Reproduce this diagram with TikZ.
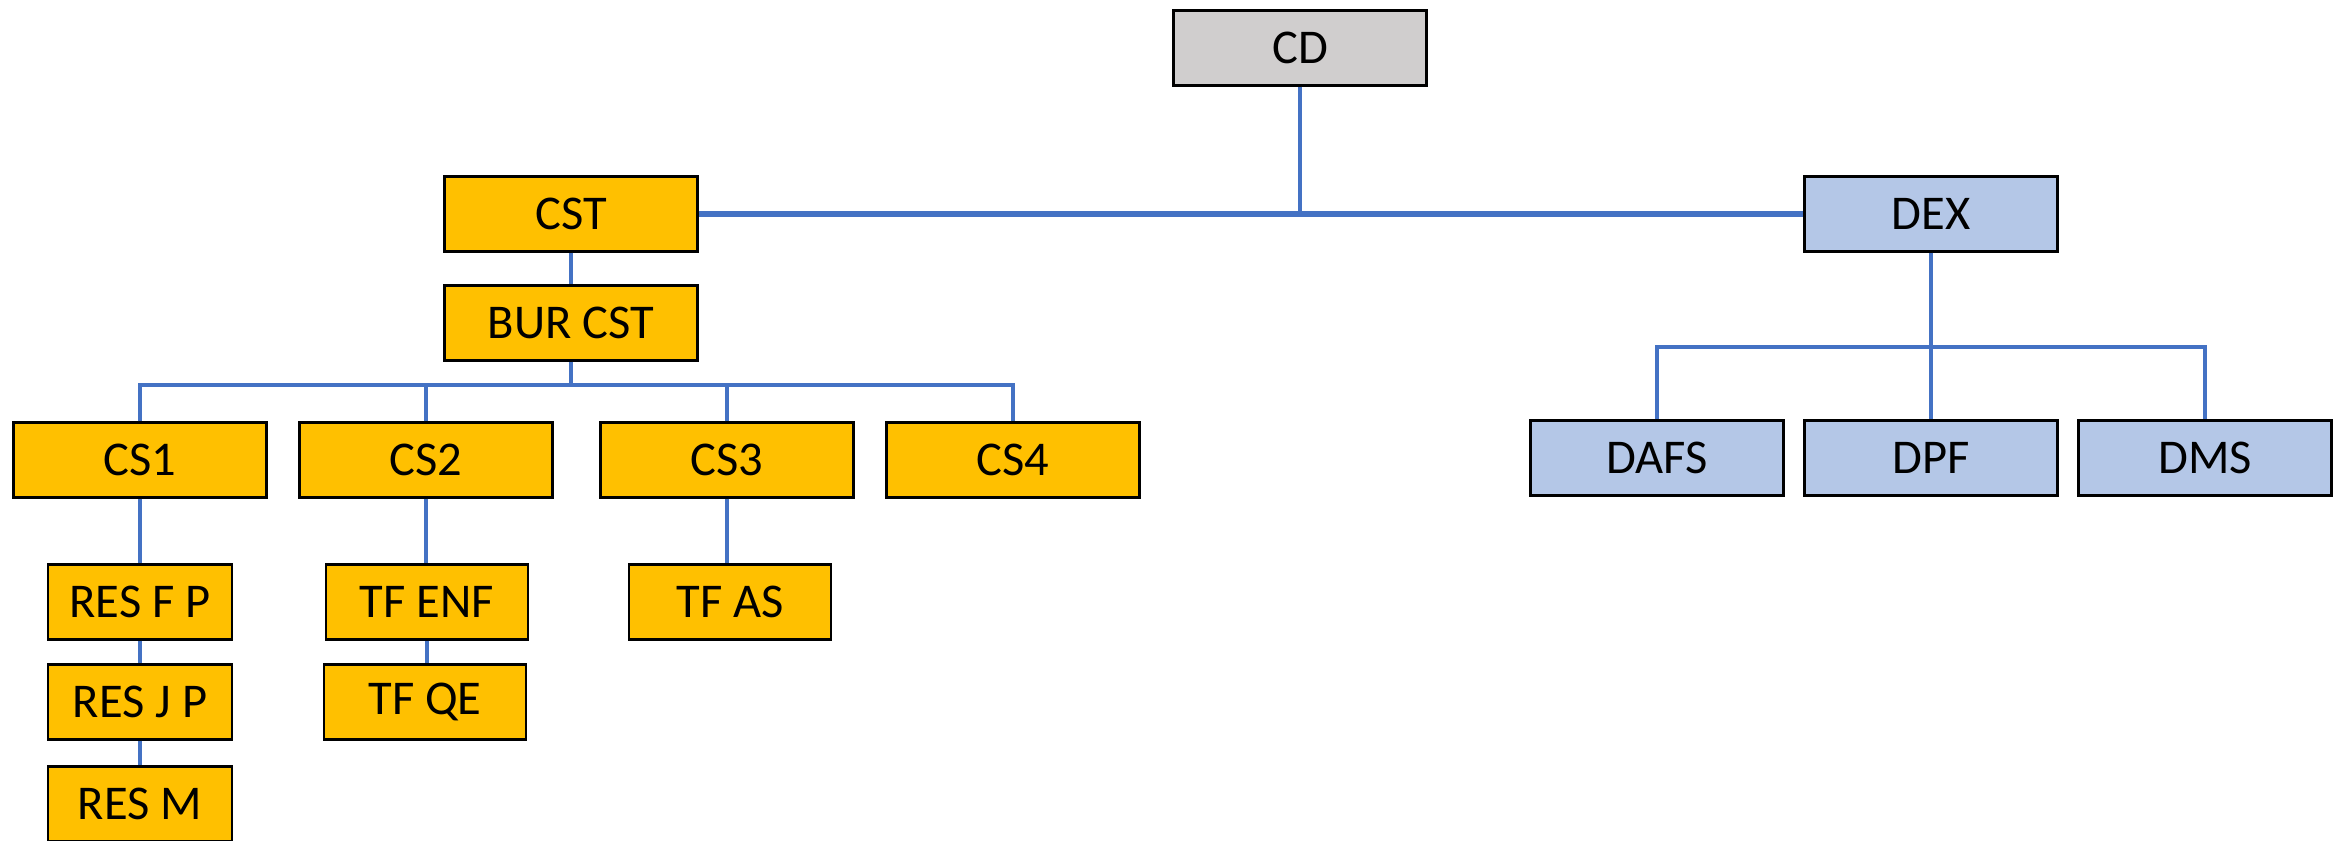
\documentclass[tikz,border=0pt]{standalone}
\usepackage{fontspec}
\setmainfont{Carlito}
\usepackage{tikz}
\usetikzlibrary{positioning,calc}
\definecolor{linkblue}{RGB}{68,114,196}
\definecolor{headgray}{RGB}{208,206,206}
\definecolor{unitorange}{RGB}{255,192,0}
\definecolor{deptblue}{RGB}{180,199,231}

\begin{document}
\begin{tikzpicture}[
    unit/.style={rectangle, draw=black, line width=0.6pt, minimum height=0.75cm, inner sep=0pt, font=\fontsize{13.8}{16}\selectfont},
    head/.style={unit, fill=headgray, minimum width=2.53cm},
    cst/.style={unit, fill=unitorange, minimum width=2.53cm},
    dex/.style={unit, fill=deptblue, minimum width=2.53cm},
    link/.style={draw=linkblue, line width=0.9pt}
]
\useasboundingbox (0,0) rectangle (23.48,-8.41);

% Head
\node[head] (cd) at (13.00, -0.48) {CD};

% CST branch
\node[cst] (cstn) at (5.71, -2.14) {CST};
\node[cst] (bur) at (5.71, -3.23) {BUR CST};
\node[cst] (cs1) at (1.40, -4.60) {CS1};
\node[cst] (cs2) at (4.26, -4.60) {CS2};
\node[cst] (cs3) at (7.27, -4.60) {CS3};
\node[cst] (cs4) at (10.13, -4.60) {CS4};
\node[cst, minimum width=1.84cm] (resfp) at (1.40, -6.02) {RES F P};
\node[cst, minimum width=1.84cm] (resjp) at (1.40, -7.02) {RES J P};
\node[cst, minimum width=1.84cm] (resm) at (1.40, -8.04) {RES M};
\node[cst, minimum width=2.02cm] (tfenf) at (4.27, -6.02) {TF ENF};
\node[cst, minimum width=2.02cm] (tfqe) at (4.25, -7.02) {TF QE};
\node[cst, minimum width=2.02cm] (tfas) at (7.30, -6.02) {TF AS};

% DEX branch
\node[dex] (dexn) at (19.31, -2.14) {DEX};
\node[dex] (dafs) at (16.57, -4.58) {DAFS};
\node[dex] (dpf) at (19.31, -4.58) {DPF};
\node[dex] (dms) at (22.05, -4.58) {DMS};

% Bus points
\coordinate (cstbus) at (5.71, -3.85);
\coordinate (dexbus) at (19.31, -3.47);

% Top links
\draw[link, line width=1.5pt] (cstn.east) -- (dexn.west);
\draw[link] (cd.south) -- (cd.south |- cstn.east);

% CST links
\draw[link] (cstn) -- (bur);
\draw[link] (bur) -- (cstbus);
\draw[link, line width=1.2pt] (cs1.north) -- (cs1 |- cstbus) -- (cs4 |- cstbus) -- (cs4.north);
\draw[link] (cs2.north) -- (cs2 |- cstbus);
\draw[link] (cs3.north) -- (cs3 |- cstbus);
\draw[link] (cs1) -- (resfp);
\draw[link] (resfp) -- (resjp);
\draw[link] (resjp) -- (resm);
\draw[link] (cs2.south) -- (cs2.south |- tfenf.north);
\draw[link] (tfenf.south) -- (tfenf.south |- tfqe.north);
\draw[link] (cs3.south) -- (cs3.south |- tfas.north);

% DEX links
\draw[link] (dexn) -- (dpf);
\draw[link, line width=1.2pt] (dafs.north) -- (dafs |- dexbus) -- (dms |- dexbus) -- (dms.north);

\end{tikzpicture}
\end{document}
